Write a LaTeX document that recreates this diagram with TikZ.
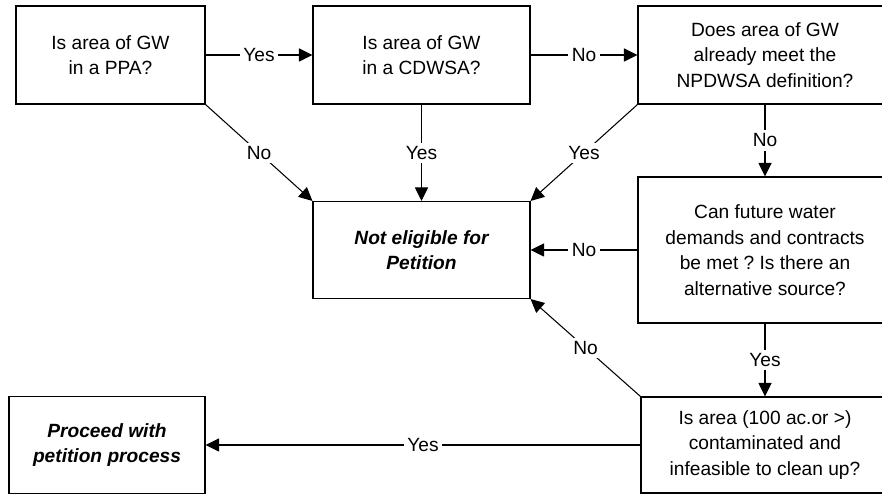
\documentclass[tikz,border=0pt]{standalone}
\usepackage{fontspec}
\setmainfont{Liberation Sans}
\usepackage{tikz}
\usetikzlibrary{positioning, arrows.meta}
\frenchspacing

\begin{document}
\begin{tikzpicture}[>={Triangle[length=0.27cm,width=0.26cm]}, line width=0.6pt,
  box/.style={draw, align=center, inner sep=0pt, font=\fontsize{10.9}{14.6}\selectfont},
  endbox/.style={box, font=\fontsize{10.9}{14.6}\selectfont\bfseries\itshape},
  lbl/.style={fill=white, inner sep=2pt, font=\fontsize{10.9}{13}\selectfont}]

% ---------- page frame ----------
\useasboundingbox (0,0) rectangle (17.64,9.9);
\clip (0,0) rectangle (17.64,9.9);

% ---------- question boxes ----------
\node[box, minimum width=3.78cm, minimum height=1.96cm] (ppa)    at (2.21,8.8) {Is area of GW\\in a PPA?};
\node[box, minimum width=4.34cm, minimum height=1.96cm] (cdwsa)  at (8.43,8.8) {Is area of GW\\in a CDWSA?};
\node[box, minimum width=5.08cm, minimum height=1.96cm] (npdwsa) at (15.3,8.8) {Does area of GW\\already meet the\\NPDWSA definition?};
\node[box, minimum width=5.08cm, minimum height=2.92cm] (demand) at (15.3,4.9) {Can future water\\demands and contracts\\be met ? Is there an\\alternative source?};
\node[box, minimum width=4.96cm, minimum height=1.92cm] (contam) at (15.3,1.0) {Is area (100 ac.or >)\\contaminated and\\infeasible to clean up?};

% ---------- outcome boxes ----------
\node[endbox, minimum width=4.34cm, minimum height=1.94cm] (noelig)  at (8.43,4.9) {Not eligible for\\Petition};
\node[endbox, minimum width=3.92cm, minimum height=1.94cm] (proceed) at (2.14,1.0) {Proceed with\\petition process};

% ---------- top row ----------
\draw[->] (ppa) -- node[lbl]{Yes} (cdwsa);
\draw[->] (cdwsa) -- node[lbl]{No} (npdwsa);

% ---------- into "not eligible" ----------
\draw[->] (ppa.south east) -- node[lbl]{No} (noelig.north west);
\draw[->] (cdwsa) -- node[lbl]{Yes} (noelig);
\draw[->] (npdwsa.south west) -- node[lbl]{Yes} (noelig.north east);
\draw[->] (demand) -- node[lbl]{No} (noelig);
\draw[->] (contam.north west) -- node[lbl]{No} (noelig.south east);

% ---------- right column ----------
\draw[->] (npdwsa) -- node[lbl]{No} (demand);
\draw[->] (demand) -- node[lbl]{Yes} (contam);

% ---------- outcome ----------
\draw[->] (contam) -- node[lbl]{Yes} (proceed);

\end{tikzpicture}
\end{document}
